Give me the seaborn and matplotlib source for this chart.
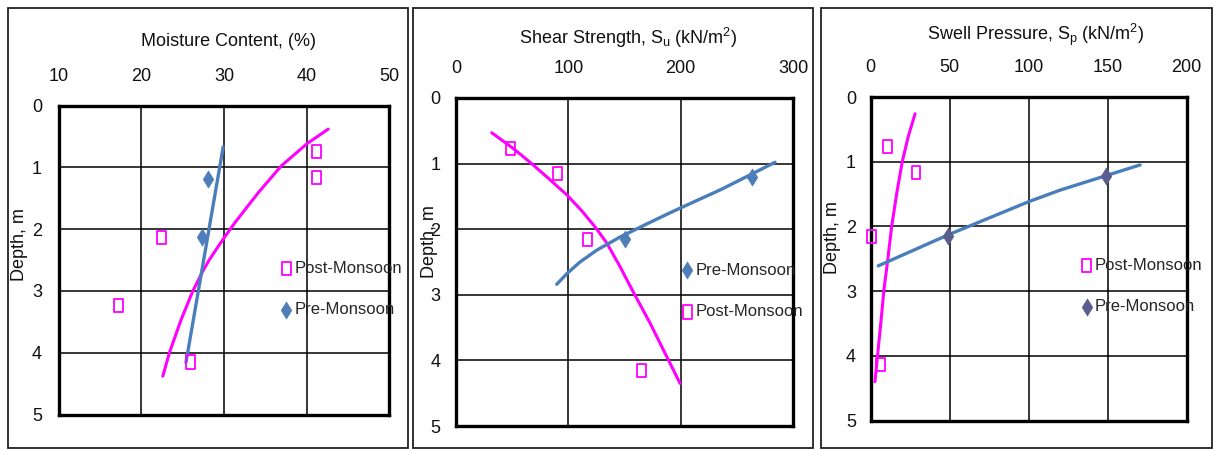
import matplotlib
matplotlib.use("Agg")
import matplotlib.pyplot as plt
from matplotlib.patches import Rectangle
from matplotlib.markers import MarkerStyle
from matplotlib.path import Path
import seaborn as sns

# ---------------- data ----------------
# Moisture content (%) vs depth (m)
moist_pre_x = [28.1, 27.4]
moist_pre_depth = [1.18, 2.12]
moist_post_x = [41.2, 41.2, 22.5, 17.3, 26.0]
moist_post_depth = [0.74, 1.17, 2.14, 3.24, 4.15]
moist_pre_trend_x = [29.9, 25.4]
moist_pre_trend_depth = [0.67, 4.16]
moist_post_trend_x = [42.6, 40.0, 36.9, 34.2, 31.4, 29.8, 28.2, 27.4, 26.2, 24.8, 23.4, 22.6]
moist_post_trend_depth = [0.38, 0.62, 0.98, 1.40, 1.88, 2.18, 2.5, 2.69, 3.01, 3.47, 4.0, 4.38]

# Shear strength Su (kN/m2) vs depth (m)
shear_pre_x = [263.7, 150.4]
shear_pre_depth = [1.20, 2.15]
shear_post_x = [49.0, 90.6, 117.3, 165.3]
shear_post_depth = [0.77, 1.15, 2.16, 4.15]
shear_pre_trend_x = [89.7, 98.6, 110.4, 125.3, 146.0, 169.8, 190.5, 208.3, 236.5, 283.9]
shear_pre_trend_depth = [2.84, 2.68, 2.50, 2.32, 2.12, 1.92, 1.75, 1.61, 1.39, 0.98]
shear_post_trend_x = [31.9, 51.1, 67.4, 84.0, 99.5, 112.5, 124.5, 134.2, 146.0, 158.5, 172.7, 187.5, 199.4]
shear_post_trend_depth = [0.53, 0.77, 1.0, 1.25, 1.49, 1.73, 1.98, 2.21, 2.57, 2.98, 3.43, 3.94, 4.35]

# Swell pressure Sp (kN/m2) vs depth (m)
swell_pre_x = [149.0, 48.9]
swell_pre_depth = [1.22, 2.15]
swell_post_x = [10.9, 28.8, 0.8, 6.6]
swell_post_depth = [0.77, 1.17, 2.16, 4.14]
swell_pre_trend_x = [4.9, 49.2, 99.9, 119.9, 170.6]
swell_pre_trend_depth = [2.61, 2.13, 1.62, 1.44, 1.05]
swell_post_trend_x = [28.2, 23.9, 20.1, 16.6, 13.4, 10.9, 8.5, 6.5, 4.6, 2.8]
swell_post_trend_depth = [0.26, 0.61, 1.0, 1.49, 2.0, 2.52, 2.98, 3.50, 3.96, 4.40]

depth_ticks = [0, 1, 2, 3, 4, 5]
moist_ticks = [10, 20, 30, 40, 50]
shear_ticks = [0, 100, 200, 300]
swell_ticks = [0, 50, 100, 150, 200]

# ---------------- style ----------------
sns.set_style("white")
plt.rcParams["font.family"] = ["Liberation Sans", "DejaVu Sans"]
plt.rcParams["mathtext.fontset"] = "custom"
plt.rcParams["mathtext.rm"] = "Liberation Sans"
plt.rcParams["mathtext.it"] = "Liberation Sans"

MAGENTA = "#FF00FF"
BLUE = "#4A7EBB"
DIAMOND_BLUE = "#4F7DBA"
DIAMOND_SLATE = "#5A5E8E"
TEXT = "#111111"
FS = 13
FS_LEG = 12

rect_marker = MarkerStyle(Path([(-0.34, -0.5), (0.34, -0.5), (0.34, 0.5), (-0.34, 0.5), (-0.34, -0.5)],
                               [Path.MOVETO, Path.LINETO, Path.LINETO, Path.LINETO, Path.CLOSEPOLY]))
diamond_marker = MarkerStyle(Path([(0, 0.5), (0.31, 0), (0, -0.5), (-0.31, 0), (0, 0.5)],
                                  [Path.MOVETO, Path.LINETO, Path.LINETO, Path.LINETO, Path.CLOSEPOLY]))

W, H = 1214, 450
fig = plt.figure(figsize=(W / 100, H / 100), dpi=100)
fig.patch.set_facecolor("white")


def px_axes(l, t, r, b):
    return fig.add_axes([l / W, 1 - b / H, (r - l) / W, (b - t) / H])


def frame(l, t, r, b):
    fig.add_artist(Rectangle((l / W, 1 - b / H), (r - l) / W, (b - t) / H,
                             transform=fig.transFigure, fill=False, lw=1.3, ec="#222222"))


def draw_panel(ax, pre, post, pre_trend, post_trend, pre_color, xlim, xticks,
               xlabel, xlabel_xy, ylabel_xy, xpad, ypad, legend_order, legend_anchor):
    sns.lineplot(x=post_trend[0], y=post_trend[1], ax=ax, sort=False, estimator=None,
                 color=MAGENTA, lw=2.2, zorder=3)
    sns.lineplot(x=pre_trend[0], y=pre_trend[1], ax=ax, sort=False, estimator=None,
                 color=BLUE, lw=2.4, zorder=3)
    h_post = ax.scatter(post[0], post[1], marker=rect_marker, s=90, facecolors="none",
                        edgecolors=MAGENTA, linewidths=1.3, zorder=4, clip_on=False,
                        label="Post-Monsoon")
    sns.scatterplot(x=pre[0], y=pre[1], ax=ax, marker=diamond_marker, s=150,
                    color=pre_color, edgecolor=pre_color, linewidth=0.5, zorder=4,
                    clip_on=False, legend=False)
    h_pre = ax.collections[-1]
    h_pre.set_label("Pre-Monsoon")

    ax.set_xlim(*xlim)
    ax.set_ylim(5, 0)
    ax.set_xticks(xticks)
    ax.set_yticks(depth_ticks)
    ax.xaxis.tick_top()
    ax.tick_params(axis="x", length=0, pad=xpad, labelsize=FS, labelcolor=TEXT)
    ax.tick_params(axis="y", length=0, pad=ypad, labelsize=FS, labelcolor=TEXT)
    ax.grid(True, color="black", lw=1.1)
    ax.set_axisbelow(True)
    for sp in ax.spines.values():
        sp.set_visible(True)
        sp.set_color("black")
        sp.set_linewidth(2.4)

    ax.xaxis.set_label_position("top")
    ax.set_xlabel(xlabel, fontsize=FS, color=TEXT, va="center")
    ax.xaxis.set_label_coords(*xlabel_xy)
    ax.set_ylabel("Depth, m", fontsize=FS, color=TEXT, va="center")
    ax.yaxis.set_label_coords(*ylabel_xy)

    handles = {"Post-Monsoon": h_post, "Pre-Monsoon": h_pre}
    ax.legend([handles[k] for k in legend_order], legend_order, loc="upper left",
              bbox_to_anchor=legend_anchor, frameon=False, fontsize=FS_LEG,
              handlelength=0.7, handletextpad=0.15, labelspacing=1.6,
              borderpad=0, borderaxespad=0)


frame(8, 8, 408, 448)
frame(413, 8, 813, 448)
frame(821, 8, 1212, 448)

ax1 = px_axes(58.6, 105.6, 389.4, 414.5)
draw_panel(ax1, (moist_pre_x, moist_pre_depth), (moist_post_x, moist_post_depth),
           (moist_pre_trend_x, moist_pre_trend_depth), (moist_post_trend_x, moist_post_trend_depth),
           DIAMOND_BLUE, (10, 50), moist_ticks, "Moisture Content, (%)",
           (0.514, 1.206), (-0.117, 0.551), 15, 12,
           ["Post-Monsoon", "Pre-Monsoon"], (0.671, 0.498))

ax2 = px_axes(455.9, 98, 793.1, 426)
draw_panel(ax2, (shear_pre_x, shear_pre_depth), (shear_post_x, shear_post_depth),
           (shear_pre_trend_x, shear_pre_trend_depth), (shear_post_trend_x, shear_post_trend_depth),
           DIAMOND_BLUE, (0, 300), shear_ticks,
           r"Shear Strength, S$_\mathrm{u}$ (kN/m$^\mathrm{2}$)",
           (0.512, 1.183), (-0.077, 0.561), 15, 11,
           ["Pre-Monsoon", "Post-Monsoon"], (0.669, 0.498))

ax3 = px_axes(870.5, 97, 1186.5, 420.5)
draw_panel(ax3, (swell_pre_x, swell_pre_depth), (swell_post_x, swell_post_depth),
           (swell_pre_trend_x, swell_pre_trend_depth), (swell_post_trend_x, swell_post_trend_depth),
           DIAMOND_SLATE, (0, 200), swell_ticks,
           r"Swell Pressure, S$_\mathrm{p}$ (kN/m$^\mathrm{2}$)",
           (0.523, 1.192), (-0.119, 0.567), 15, 10.5,
           ["Post-Monsoon", "Pre-Monsoon"], (0.666, 0.5035))

fig.savefig("out.png", dpi=100, facecolor="white")
